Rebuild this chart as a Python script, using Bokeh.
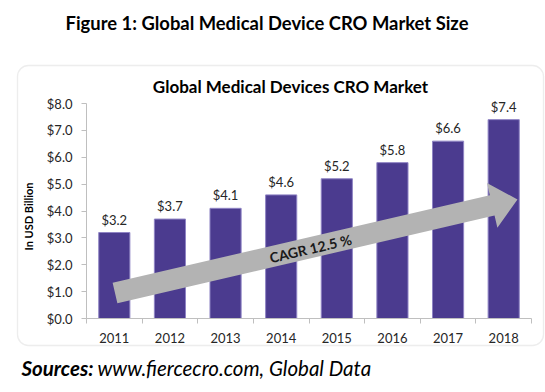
import math
from bokeh.plotting import figure
from bokeh.models import (ColumnDataSource, Label, LabelSet, BoxAnnotation,
                          FixedTicker, NumeralTickFormatter, Range1d)
from bokeh.core.properties import value
from bokeh.embed import file_html
from bokeh.resources import INLINE

# ---------------- data ----------------
YEARS = ["2011", "2012", "2013", "2014", "2015", "2016", "2017", "2018"]
MARKET_USD_BN = [3.2, 3.7, 4.1, 4.6, 5.2, 5.8, 6.6, 7.4]
Y_TICKS = [0, 1, 2, 3, 4, 5, 6, 7, 8]
CAGR_TEXT = "CAGR 12.5 %"
FIG_TITLE = "Figure 1: Global Medical Device CRO Market Size"
CHART_TITLE = "Global Medical Devices CRO Market"
Y_LABEL = "In USD Billion"
SOURCE_BOLD = "Sources:"
SOURCE_TEXT = "www.fiercecro.com, Global Data"

# ---------------- layout (page pixels) ----------------
W, H = 545, 392
AXIS_X, AXIS_Y = 86, 318          # where the axes cross on the page
AXIS_X_END, AXIS_Y_TOP = 531, 103  # right end of x axis, top of y axis
N = len(YEARS)
Y_MAX = Y_TICKS[-1]
PXX = (AXIS_X_END - AXIS_X) / N    # pixels per category
PXY = (AXIS_Y - AXIS_Y_TOP) / Y_MAX  # pixels per billion

def dx(page_x):
    return 0.5 + (page_x - AXIS_X) / PXX

def dy(page_y):
    return (AXIS_Y - page_y) / PXY

FONT = "Lato"
BAR_COLOR = "#4B3B8F"
AXIS_GRAY = "#BFBFBF"
TXT = "#262626"

positions = list(range(1, N + 1))
labels = ["$%.1f" % v for v in MARKET_USD_BN]
src = ColumnDataSource(dict(x=positions, top=MARKET_USD_BN, lab=labels))

# the frame covers the whole canvas; axes are drawn at fixed locations inside
p = figure(width=W, height=H,
           x_range=Range1d(dx(0), dx(W)), y_range=Range1d(dy(H), dy(0)),
           output_backend="svg", toolbar_location=None,
           min_border_left=0, min_border_right=0,
           min_border_top=0, min_border_bottom=0)
p.title = None
p.outline_line_color = None
p.xgrid.visible = False
p.ygrid.visible = False
p.background_fill_color = "white"
p.border_fill_color = "white"

# rounded chart box
p.add_layout(BoxAnnotation(left=dx(17), right=dx(543), top=dy(65),
                           bottom=dy(345), fill_color=None,
                           line_color="#C4C4C4", line_width=1.3,
                           border_radius=11, level="underlay"))

# bars
p.vbar(x="x", top="top", width=0.56, bottom=0, source=src,
       fill_color=BAR_COLOR, line_color="#8F84C4", line_width=1)

# value labels
p.add_layout(LabelSet(x="x", y="top", text="lab", source=src,
                      text_align="center", text_baseline="middle",
                      y_offset=13, text_font=value(FONT),
                      text_font_size=value("13px"), text_color=TXT))

# y axis
p.yaxis.fixed_location = 0.5
p.yaxis.ticker = FixedTicker(ticks=Y_TICKS)
p.yaxis.bounds = (0, Y_MAX)
p.yaxis.formatter = NumeralTickFormatter(format="$0.0")
p.yaxis.axis_line_color = AXIS_GRAY
p.yaxis.major_tick_line_color = AXIS_GRAY
p.yaxis.major_tick_out = 5
p.yaxis.major_tick_in = 0
p.yaxis.minor_tick_line_color = None
p.yaxis.major_label_standoff = 9
p.yaxis.major_label_text_font = FONT
p.yaxis.major_label_text_font_size = "13px"
p.yaxis.major_label_text_color = TXT

# x axis
p.xaxis.fixed_location = 0
p.xaxis.ticker = FixedTicker(ticks=positions,
                             minor_ticks=[i + 0.5 for i in range(N + 1)])
p.xaxis.bounds = (0.5, N + 0.5)
p.xaxis.major_label_overrides = {pos: yr for pos, yr in zip(positions, YEARS)}
p.xaxis.axis_line_color = AXIS_GRAY
p.xaxis.major_tick_line_color = None
p.xaxis.major_tick_out = 0
p.xaxis.major_tick_in = 0
p.xaxis.minor_tick_line_color = AXIS_GRAY
p.xaxis.minor_tick_out = 5
p.xaxis.minor_tick_in = 0
p.xaxis.major_label_standoff = 9
p.xaxis.major_label_text_font = FONT
p.xaxis.major_label_text_font_size = "13px"
p.xaxis.major_label_text_color = TXT

# CAGR arrow (annotation)
ARROW_FROM = (dx(114.5), dy(292.5))
ARROW_TO = (dx(517), dy(199))
SHAFT_HALF, HEAD_HALF, HEAD_LEN = 10.5, 23, 26
ax0, ay0 = ARROW_FROM[0] * PXX, ARROW_FROM[1] * PXY
ax1, ay1 = ARROW_TO[0] * PXX, ARROW_TO[1] * PXY
L = math.hypot(ax1 - ax0, ay1 - ay0)
ux, uy = (ax1 - ax0) / L, (ay1 - ay0) / L
nx, ny = -uy, ux
bx, by = ax1 - HEAD_LEN * ux, ay1 - HEAD_LEN * uy
pts = [
    (ax0 + SHAFT_HALF * nx, ay0 + SHAFT_HALF * ny),
    (bx + SHAFT_HALF * nx, by + SHAFT_HALF * ny),
    (bx + HEAD_HALF * nx, by + HEAD_HALF * ny),
    (ax1, ay1),
    (bx - HEAD_HALF * nx, by - HEAD_HALF * ny),
    (bx - SHAFT_HALF * nx, by - SHAFT_HALF * ny),
    (ax0 - SHAFT_HALF * nx, ay0 - SHAFT_HALF * ny),
]
p.patch([q[0] / PXX for q in pts], [q[1] / PXY for q in pts],
        fill_color="#B3B3B3", line_color=None)
angle = math.atan2(ay1 - ay0, ax1 - ax0)

def text_label(px, py, text, **kw):
    opts = dict(text_baseline="middle", text_font=FONT, text_color="black")
    opts.update(kw)
    p.add_layout(Label(x=dx(px), y=dy(py), text=text, **opts))

text_label(310, 248, CAGR_TEXT, angle=angle, text_align="center",
           text_font_style="bold", text_font_size="14px", text_color="#1A1A1A")
text_label(266.5, 22, FIG_TITLE, text_align="center",
           text_font_style="bold", text_font_size="18.4px")
text_label(290, 86, CHART_TITLE, text_align="center",
           text_font_style="bold", text_font_size="17px")
text_label(28, 216, Y_LABEL, angle=math.pi / 2, text_align="center",
           text_font_style="bold", text_font_size="11px")
text_label(21, 367, SOURCE_BOLD, text_align="left",
           text_font_style="bold italic", text_font_size="20.5px")
text_label(97, 367, SOURCE_TEXT, text_align="left",
           text_font_style="italic", text_font_size="20.5px")

open("out.html", "w").write(file_html(p, INLINE))
